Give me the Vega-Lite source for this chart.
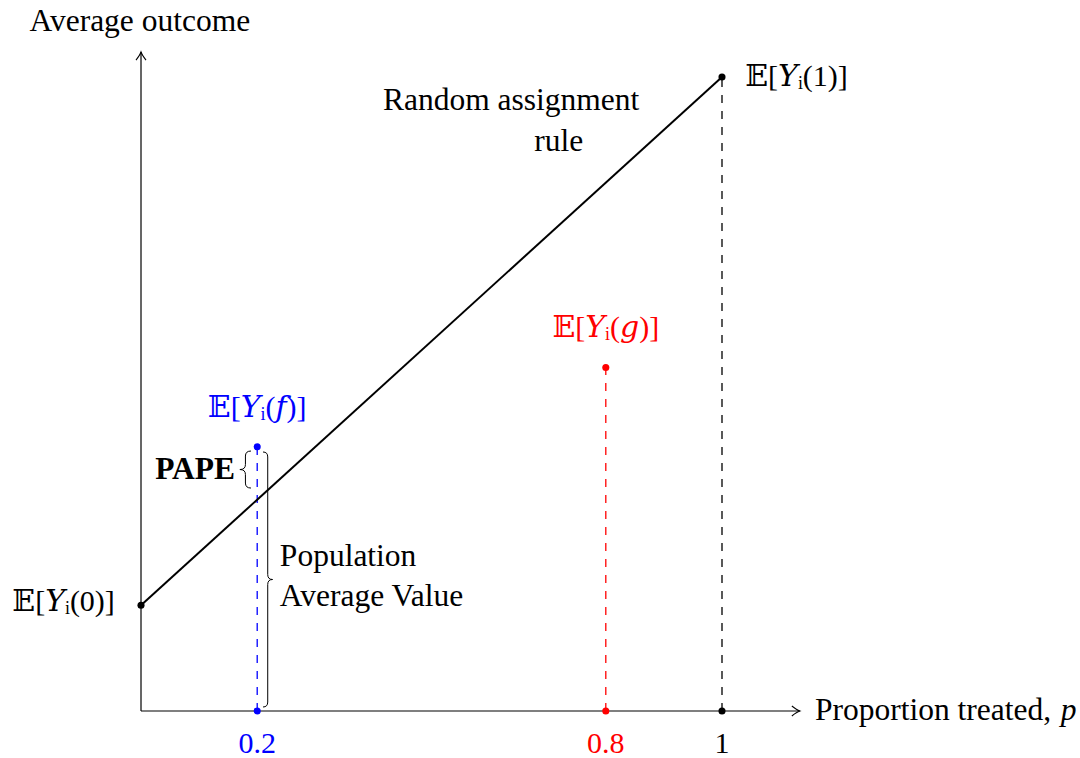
{
  "$schema": "https://vega.github.io/schema/vega-lite/v6.json",
  "width": 1080,
  "height": 758,
  "autosize": {"type": "none"},
  "padding": 0,
  "background": "white",
  "config": {"view": {"stroke": null}},
  "encoding": {
    "x": {"type": "quantitative", "scale": {"domain": [-0.24269, 1.61618], "nice": false, "zero": false}, "axis": null},
    "y": {"type": "quantitative", "scale": {"domain": [-0.4448, 6.7285], "nice": false, "zero": false}, "axis": null}
  },
  "layer": [
    {
      "data": {"values": [
        {"p": 0, "v": 0, "p2": 1.134, "v2": 0},
        {"p": 0, "v": 0, "p2": 0, "v2": 6.236}
      ]},
      "mark": {"type": "rule", "color": "black", "strokeWidth": 1.2},
      "encoding": {
        "x": {"field": "p", "type": "quantitative"},
        "y": {"field": "v", "type": "quantitative"},
        "x2": {"field": "p2"},
        "y2": {"field": "v2"}
      }
    },
    {
      "data": {"values": [{"p": 1.134, "v": 0}]},
      "mark": {"type": "point", "shape": "M -1.6 -1 Q -0.6 -0.2 0 0 Q -0.6 0.2 -1.6 1", "size": 100, "filled": false, "color": "black", "strokeWidth": 1.1, "opacity": 1},
      "encoding": {
        "x": {"field": "p", "type": "quantitative"},
        "y": {"field": "v", "type": "quantitative"}
      }
    },
    {
      "data": {"values": [{"p": 0, "v": 6.236}]},
      "mark": {"type": "point", "shape": "M -1 1.6 Q -0.2 0.6 0 0 Q 0.2 0.6 1 1.6", "size": 100, "filled": false, "color": "black", "strokeWidth": 1.1, "opacity": 1},
      "encoding": {
        "x": {"field": "p", "type": "quantitative"},
        "y": {"field": "v", "type": "quantitative"}
      }
    },
    {
      "data": {"values": [
        {"p": 1, "v": 0, "v2": 6, "series": "base"},
        {"p": 0.2, "v": 0, "v2": 2.5, "series": "f"},
        {"p": 0.8, "v": 0, "v2": 3.25, "series": "g"}
      ]},
      "mark": {"type": "rule", "strokeWidth": 1.3, "strokeDash": [8, 8]},
      "encoding": {
        "x": {"field": "p", "type": "quantitative"},
        "y": {"field": "v", "type": "quantitative"},
        "y2": {"field": "v2"},
        "color": {"field": "series", "type": "nominal", "scale": {"domain": ["base", "f", "g"], "range": ["#000000", "#0000ff", "#ff0000"]}, "legend": null}
      }
    },
    {
      "data": {"values": [
        {"p": 0, "v": 1},
        {"p": 1, "v": 6}
      ]},
      "mark": {"type": "line", "color": "black", "strokeWidth": 2},
      "encoding": {
        "x": {"field": "p", "type": "quantitative"},
        "y": {"field": "v", "type": "quantitative"}
      }
    },
    {
      "data": {"values": [
        {"p": 0, "v": 1, "series": "base"},
        {"p": 1, "v": 6, "series": "base"},
        {"p": 1, "v": 0, "series": "base"},
        {"p": 0.2, "v": 0, "series": "f"},
        {"p": 0.2, "v": 2.5, "series": "f"},
        {"p": 0.8, "v": 0, "series": "g"},
        {"p": 0.8, "v": 3.25, "series": "g"}
      ]},
      "mark": {"type": "circle", "size": 50, "opacity": 1},
      "encoding": {
        "x": {"field": "p", "type": "quantitative"},
        "y": {"field": "v", "type": "quantitative"},
        "color": {"field": "series", "type": "nominal", "legend": null}
      }
    },
    {
      "data": {"values": [{"p": 0.1893, "v": 2.285}]},
      "mark": {"type": "point", "shape": "M 0 -1 Q -0.3 -1 -0.3 -0.73 L -0.3 -0.27 Q -0.3 0 -0.6 0 Q -0.3 0 -0.3 0.27 L -0.3 0.73 Q -0.3 1 0 1", "size": 1369, "filled": false, "color": "black", "strokeWidth": 1, "opacity": 1},
      "encoding": {
        "x": {"field": "p", "type": "quantitative"},
        "y": {"field": "v", "type": "quantitative"}
      }
    },
    {
      "data": {"values": [{"p": 0.21, "v": 1.2445}]},
      "mark": {"type": "point", "shape": "M 0 -1 Q 0.037 -1 0.037 -0.961 L 0.037 -0.039 Q 0.037 0 0.075 0 Q 0.037 0 0.037 0.039 L 0.037 0.961 Q 0.037 1 0 1", "size": 65025, "filled": false, "color": "black", "strokeWidth": 1, "opacity": 1},
      "encoding": {
        "x": {"field": "p", "type": "quantitative"},
        "y": {"field": "v", "type": "quantitative"}
      }
    },
    {
      "data": {"values": [
        {"p": -0.002, "v": 6.52, "label": "Average outcome"},
        {"p": 0.637, "v": 5.77, "label": "Random assignment"},
        {"p": 0.719, "v": 5.385, "label": "rule"}
      ]},
      "mark": {"type": "text", "font": "Liberation Serif, DejaVu Serif", "fontSize": 31.5, "align": "center", "baseline": "middle", "color": "black"},
      "encoding": {
        "x": {"field": "p", "type": "quantitative"},
        "y": {"field": "v", "type": "quantitative"},
        "text": {"field": "label"}
      }
    },
    {
      "data": {"values": [
        {"p": 1.16, "v": 0, "label": "Proportion treated,"},
        {"p": 0.239, "v": 1.457, "label": "Population"},
        {"p": 0.239, "v": 1.079, "label": "Average Value"}
      ]},
      "mark": {"type": "text", "font": "Liberation Serif, DejaVu Serif", "fontSize": 31.5, "align": "left", "baseline": "middle", "color": "black"},
      "encoding": {
        "x": {"field": "p", "type": "quantitative"},
        "y": {"field": "v", "type": "quantitative"},
        "text": {"field": "label"}
      }
    },
    {
      "data": {"values": [
        {"p": 1.583, "v": 0, "label": "p"}
      ]},
      "mark": {"type": "text", "font": "Liberation Serif, DejaVu Serif", "fontSize": 31.5, "fontStyle": "italic", "align": "left", "baseline": "middle", "color": "black"},
      "encoding": {
        "x": {"field": "p", "type": "quantitative"},
        "y": {"field": "v", "type": "quantitative"},
        "text": {"field": "label"}
      }
    },
    {
      "data": {"values": [
        {"p": 0.162, "v": 2.28, "label": "PAPE"}
      ]},
      "mark": {"type": "text", "font": "Liberation Serif, DejaVu Serif", "fontSize": 31.5, "fontWeight": "bold", "align": "right", "baseline": "middle", "color": "black"},
      "encoding": {
        "x": {"field": "p", "type": "quantitative"},
        "y": {"field": "v", "type": "quantitative"},
        "text": {"field": "label"}
      }
    },
    {
      "data": {"values": [
        {"p": 1.04, "v": 6.0, "label": "𝔼[𝑌ᵢ(1)]"}
      ]},
      "mark": {"type": "text", "font": "Liberation Serif, DejaVu Serif", "fontSize": 30, "align": "left", "baseline": "middle", "color": "black"},
      "encoding": {
        "x": {"field": "p", "type": "quantitative"},
        "y": {"field": "v", "type": "quantitative"},
        "text": {"field": "label"}
      }
    },
    {
      "data": {"values": [
        {"p": -0.045, "v": 1.03, "label": "𝔼[𝑌ᵢ(0)]"}
      ]},
      "mark": {"type": "text", "font": "Liberation Serif, DejaVu Serif", "fontSize": 30, "align": "right", "baseline": "middle", "color": "black"},
      "encoding": {
        "x": {"field": "p", "type": "quantitative"},
        "y": {"field": "v", "type": "quantitative"},
        "text": {"field": "label"}
      }
    },
    {
      "data": {"values": [
        {"p": 0.2, "v": 2.87, "label": "𝔼[𝑌ᵢ(𝑓)]", "series": "f"},
        {"p": 0.8, "v": 3.62, "label": "𝔼[𝑌ᵢ(𝑔)]", "series": "g"}
      ]},
      "mark": {"type": "text", "font": "Liberation Serif, DejaVu Serif", "fontSize": 30, "align": "center", "baseline": "middle"},
      "encoding": {
        "x": {"field": "p", "type": "quantitative"},
        "y": {"field": "v", "type": "quantitative"},
        "text": {"field": "label"},
        "color": {"field": "series", "type": "nominal", "legend": null}
      }
    },
    {
      "data": {"values": [
        {"p": 0.2, "v": -0.31, "label": "0.2", "series": "f"},
        {"p": 0.8, "v": -0.31, "label": "0.8", "series": "g"},
        {"p": 1, "v": -0.31, "label": "1", "series": "base"}
      ]},
      "mark": {"type": "text", "font": "Liberation Serif, DejaVu Serif", "fontSize": 30, "align": "center", "baseline": "middle"},
      "encoding": {
        "x": {"field": "p", "type": "quantitative"},
        "y": {"field": "v", "type": "quantitative"},
        "text": {"field": "label"},
        "color": {"field": "series", "type": "nominal", "legend": null}
      }
    }
  ]
}
